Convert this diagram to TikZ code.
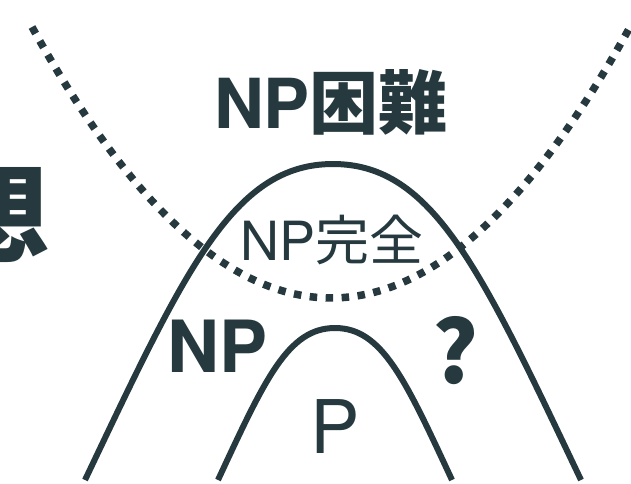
\documentclass[tikz,border=0pt]{standalone}
\usepackage{fontspec}
\setmainfont{TeX Gyre Heros}
\newfontfamily\cjk{Noto Sans CJK JP}
\definecolor{ink}{RGB}{37,57,63}
\begin{document}
\begin{tikzpicture}[x=1pt,y=-1pt,
  arch/.style={draw=ink,line width=6pt},
  dots/.style={draw=ink,line width=7.5pt,dash pattern=on 7.5pt off 8.5pt},
  lbl/.style={text=ink,inner sep=0pt}]
\useasboundingbox (0,0) rectangle (631,483);
\clip (0,0) rectangle (631,483);
% partial character at left edge
\node[lbl,anchor=east,font=\cjk\bfseries\fontsize{108}{108}\selectfont] (omoi) at (50,212) {想};
% dotted parabola
\coordinate (dl) at (32,27);
\coordinate (dr) at (630,27);
\draw[dots] (dl) .. controls (231.3,388.3) and (430.7,388.3) .. (dr);
% NP arch
\coordinate (bl) at (85,480);
\coordinate (bt) at (333,164);
\coordinate (br) at (581,480);
\draw[arch] (bl) .. controls (185,270) and (233,164) .. (bt) .. controls (433,164) and (481,270) .. (br);
% P arch
\coordinate (sl) at (218,480);
\coordinate (st) at (335,328);
\coordinate (sr) at (452,480);
\draw[arch] (sl) .. controls (265,379) and (288,328) .. (st) .. controls (382,328) and (405,379) .. (sr);
% labels
\node[lbl,font=\bfseries\fontsize{69}{69}\selectfont] (nphard) at (331,102) {NP{\cjk 困難}};
\node[lbl,font=\fontsize{54}{54}\selectfont] (npc) at (332,240) {NP{\cjk 完全}};
\node[lbl,font=\bfseries\fontsize{72}{72}\selectfont] (np) at (218,346) {NP};
\node[lbl,font=\fontsize{74}{74}\selectfont] (p) at (335,427) {P};
\node[lbl,font=\cjk\bfseries\fontsize{86}{86}\selectfont] (q) at (456,351) {?};
\end{tikzpicture}
\end{document}
